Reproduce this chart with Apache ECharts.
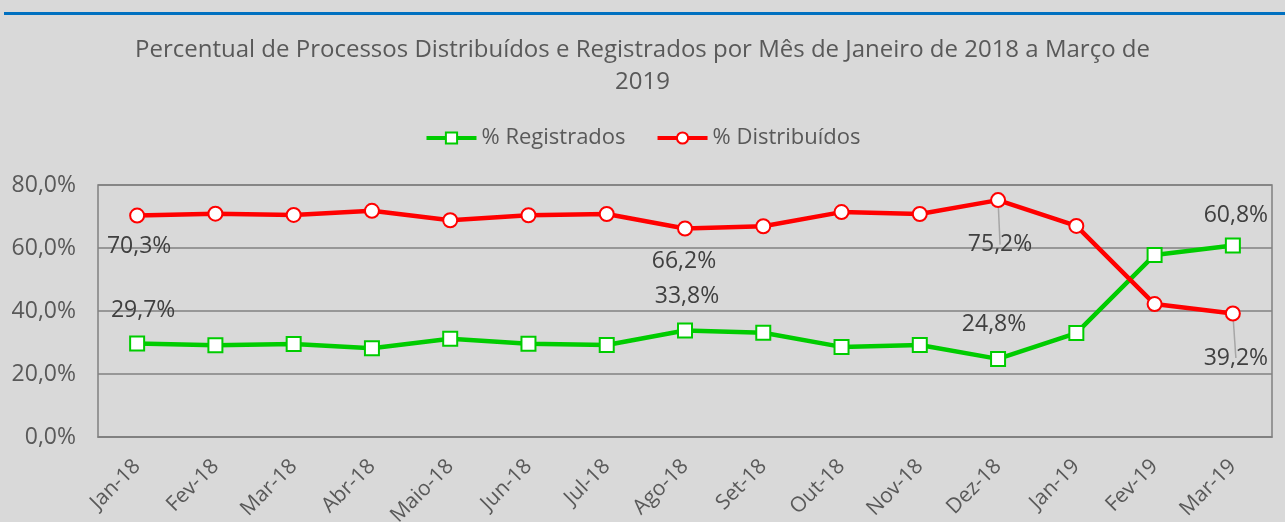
<!DOCTYPE html>
<html><head><meta charset="utf-8">
<script src="https://cdn.jsdelivr.net/npm/echarts@6/dist/echarts.min.js"></script>
<style>html,body{margin:0;padding:0;background:#d9d9d9;}#c{width:1285px;height:522px;}</style>
</head><body><div id="c"></div>
<script>
const categories = ['Jan-18','Fev-18','Mar-18','Abr-18','Maio-18','Jun-18','Jul-18','Ago-18','Set-18','Out-18','Nov-18','Dez-18','Jan-19','Fev-19','Mar-19'];
const registrados = [29.7, 29.1, 29.5, 28.2, 31.2, 29.6, 29.2, 33.8, 33.1, 28.6, 29.2, 24.8, 33.0, 57.8, 60.8];
const distribuidos = [70.3, 70.9, 70.5, 71.8, 68.8, 70.4, 70.8, 66.2, 66.9, 71.4, 70.8, 75.2, 67.0, 42.2, 39.2];
const yTicks = [0, 20, 40, 60, 80];
const labeledIdx = [0, 7, 11, 14];
const leaderIdx = [11, 14];

const FONT = 'Open Sans';
const TXT = '#595959';
const fmt = v => v.toFixed(1).replace('.', ',') + '%';

function items(values, pos, dist, offX, leaders) {
  return values.map((v, i) => {
    if (labeledIdx.indexOf(i) < 0) return v;
    const it = { value: v, label: { show: true, position: pos, distance: dist[i] || 8, offset: [offX[i] || 0, 0] } };
    if (leaders && leaders.indexOf(i) >= 0) {
      it.labelLine = { show: true, lineStyle: { color: '#a6a6a6', width: 1.5 } };
    }
    return it;
  });
}

const chart = echarts.init(document.getElementById('c'));
chart.setOption({
  backgroundColor: '#d9d9d9',
  animation: false,
  title: {
    text: 'Percentual de Processos Distribuídos e Registrados por Mês de Janeiro de 2018 a Março de\n2019',
    left: 'center', top: 29,
    textStyle: { fontFamily: FONT, fontSize: 24, fontWeight: 'normal', color: TXT, lineHeight: 32 }
  },
  legend: {
    top: 122, left: 'center', itemWidth: 50, itemHeight: 14, itemGap: 30,
    lineStyle: { width: 4 },
    textStyle: { fontFamily: FONT, fontSize: 22, color: TXT },
    data: ['% Registrados', '% Distribuídos']
  },
  graphic: [{ type: 'rect', shape: { x: 4, y: 12, width: 1281, height: 3 }, style: { fill: '#0070c0' } }],
  grid: { left: 98, right: 13, top: 185, bottom: 85, outerBoundsMode: 'none', containLabel: false, show: true, borderColor: '#808080', borderWidth: 1.5, backgroundColor: 'transparent' },
  xAxis: {
    type: 'category', data: categories, boundaryGap: true,
    axisLine: { show: true, lineStyle: { color: '#808080', width: 1.5 } },
    axisTick: { show: false },
    axisLabel: { rotate: 45, margin: 26, fontFamily: FONT, fontSize: 21, color: TXT, interval: 0 }
  },
  yAxis: {
    type: 'value', min: yTicks[0], max: yTicks[yTicks.length - 1], interval: 20,
    axisLine: { show: false }, axisTick: { show: false },
    splitLine: { lineStyle: { color: '#808080', width: 1.5 } },
    axisLabel: { margin: 22, fontFamily: FONT, fontSize: 23, color: TXT, formatter: v => fmt(v) }
  },
  series: [
    {
      name: '% Registrados', type: 'line',
      data: items(registrados, 'top', {0: 13, 7: 15, 11: 15, 14: 11}, {0: 6, 7: 2, 11: -4, 14: 3}),
      lineStyle: { color: '#00cc00', width: 4.5 },
      itemStyle: { color: '#ffffff', borderColor: '#00cc00', borderWidth: 2 },
      symbol: 'rect', symbolSize: 14,
      label: { show: false, fontFamily: FONT, fontSize: 23, color: '#404040', formatter: p => fmt(p.value) },
      z: 3
    },
    {
      name: '% Distribuídos', type: 'line',
      data: items(distribuidos, 'bottom', {0: 11, 7: 13, 11: 25, 14: 25}, {0: 2, 7: -1, 11: 2, 14: 3}, leaderIdx),
      lineStyle: { color: '#ff0000', width: 4.5 },
      itemStyle: { color: '#ffffff', borderColor: '#ff0000', borderWidth: 2 },
      symbol: 'circle', symbolSize: 14,
      label: { show: false, fontFamily: FONT, fontSize: 23, color: '#404040', formatter: p => fmt(p.value) },
      z: 4
    }
  ]
});
</script></body></html>
